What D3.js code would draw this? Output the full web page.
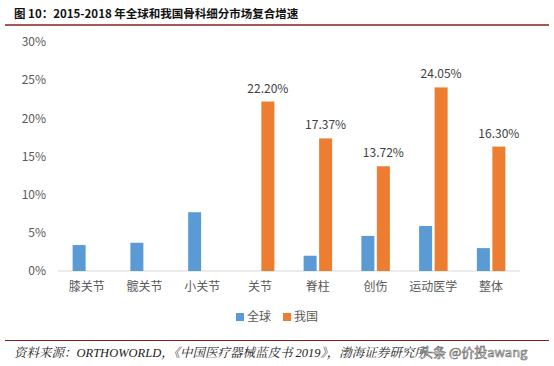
<!DOCTYPE html>
<html><head><meta charset="utf-8">
<script src="https://cdn.jsdelivr.net/npm/d3@7"></script>
<style>body{margin:0;background:#fff;}svg{display:block;}</style>
</head><body>
<script>
const categories = ["膝关节","髋关节","小关节","关节","脊柱","创伤","运动医学","整体"];
const globalVals = [3.4, 3.7, 7.7, null, 2.0, 4.6, 5.9, 3.0];
const chinaVals = [null, null, null, 22.20, 17.37, 13.72, 24.05, 16.30];
const yTicks = [0,5,10,15,20,25,30];
const seriesNames = ["全球","我国"];
const colors = ["#5B9BD5","#ED7D31"];

const W=554,H=366;
const svg=d3.select("body").append("svg").attr("width",W).attr("height",H);
const font="'Noto Sans CJK SC','Noto Sans',sans-serif";

// title
svg.append("text").attr("x",14).attr("y",18).attr("font-family",font).attr("font-weight","bold")
 .attr("font-size",11.5).attr("fill","#111").text("图 10：2015-2018 年全球和我国骨科细分市场复合增速");
svg.append("line").attr("x1",5).attr("x2",549).attr("y1",25).attr("y2",25).attr("stroke","#8B1E1E").attr("stroke-width",1.5);

const x=d3.scaleBand().domain(categories).range([58,520]);
const y=d3.scaleLinear().domain([0,30]).range([271,42]);

// y axis labels
svg.append("g").selectAll("text").data(yTicks).join("text")
 .attr("x",46).attr("y",d=>y(d)).attr("dy","0.35em").attr("text-anchor","end")
 .attr("font-family",font).attr("font-size",12).attr("fill","#595959").text(d=>d+"%");

// baseline
svg.append("line").attr("x1",58).attr("x2",520).attr("y1",y(0)).attr("y2",y(0)).attr("stroke","#d9d9d9");

const bw=13, gap=2.5;
const sub=d3.scaleOrdinal().domain([0,1]).range([-gap/2-bw, gap/2]);
const series=[globalVals,chinaVals];
series.forEach((vals,si)=>{
  svg.append("g").selectAll("rect").data(categories.map((c,i)=>({c,v:vals[i]})).filter(d=>d.v!=null)).join("rect")
   .attr("x",d=>x(d.c)+x.bandwidth()/2+sub(si)).attr("width",bw)
   .attr("y",d=>y(d.v)).attr("height",d=>y(0)-y(d.v)).attr("fill",colors[si]);
});
// labels on china
svg.append("g").selectAll("text").data(categories.map((c,i)=>({c,v:chinaVals[i]})).filter(d=>d.v!=null)).join("text")
 .attr("x",d=>x(d.c)+x.bandwidth()/2+sub(1)+bw/2).attr("y",d=>y(d.v)-9)
 .attr("text-anchor","middle").attr("font-family",font).attr("font-size",12).attr("fill","#404040")
 .text(d=>d.v.toFixed(2)+"%");

// x labels
svg.append("g").selectAll("text").data(categories).join("text")
 .attr("x",d=>x(d)+x.bandwidth()/2).attr("y",291).attr("text-anchor","middle")
 .attr("font-family",font).attr("font-size",12).attr("fill","#595959").text(d=>d);

// legend
const lg=svg.append("g");
const lx=[236,283];
seriesNames.forEach((n,i)=>{
  lg.append("rect").attr("x",lx[i]).attr("y",313).attr("width",8).attr("height",8).attr("fill",colors[i]);
  lg.append("text").attr("x",lx[i]+11).attr("y",317).attr("dy","0.35em").attr("font-family",font)
   .attr("font-size",12).attr("fill","#595959").text(n);
});

// bottom line + source
svg.append("line").attr("x1",5).attr("x2",549).attr("y1",340.5).attr("y2",340.5).attr("stroke","#8B1E1E").attr("stroke-width",1.2);
svg.append("text").attr("x",14).attr("y",357).attr("font-family","'Liberation Serif','Noto Serif CJK SC',serif")
 .attr("font-style","italic").attr("font-size",12.5).attr("fill","#222")
 .text("资料来源：ORTHOWORLD，《中国医疗器械蓝皮书 2019》，渤海证券研究所");
svg.append("text").attr("x",420).attr("y",357).attr("font-family",font)
 .attr("font-size",13).attr("fill","#fff").attr("stroke","#666").attr("stroke-width",0.6)
 .text("头条 @价投awang");
</script>
</body></html>
